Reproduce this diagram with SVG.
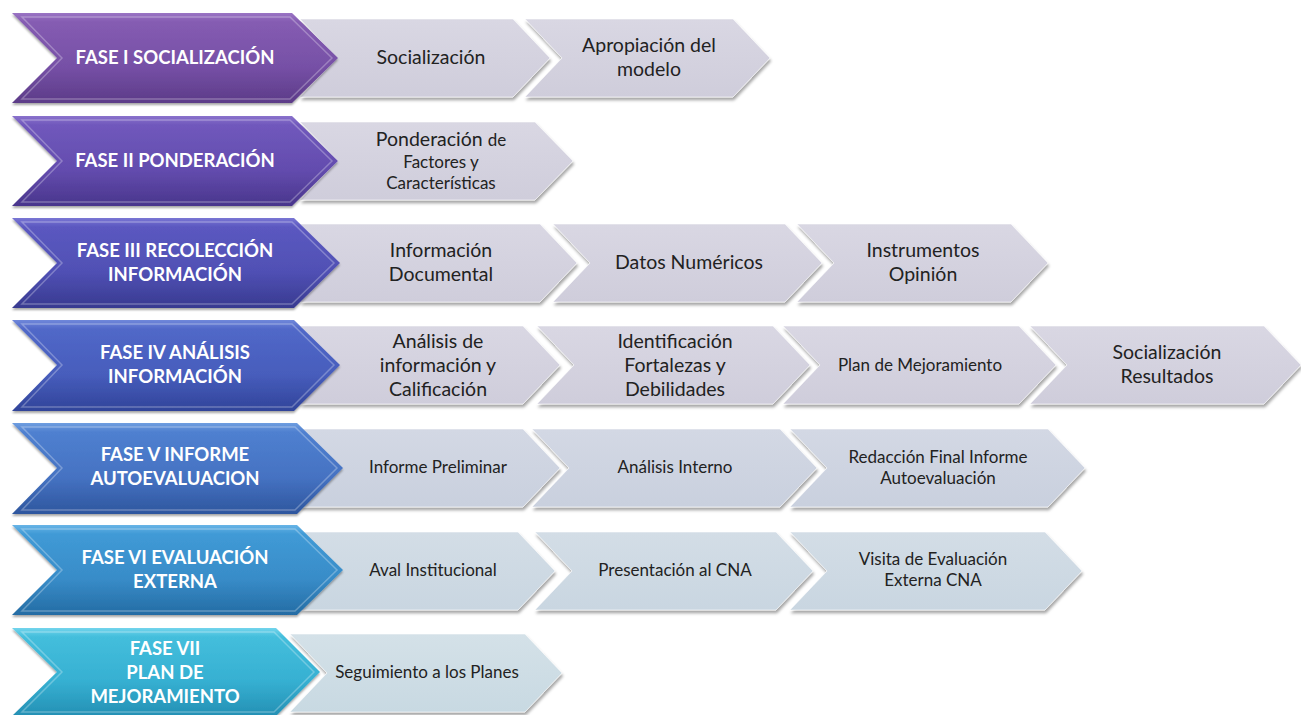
<svg xmlns="http://www.w3.org/2000/svg" width="1301" height="715" viewBox="0 0 1301 715">
<style>
.big text{font-family:Lato,"Liberation Sans",sans-serif;font-weight:bold;font-size:18.5px;fill:#fff;text-anchor:middle}
.sm text{font-family:Lato,"Liberation Sans",sans-serif;font-size:19.5px;fill:#222;text-anchor:middle}
.sm text.s{font-size:17px}
.sm polygon{filter:url(#sh);stroke:#fff;stroke-opacity:0.55;stroke-width:1}
.bigp{filter:url(#sh2)}
.hl{fill:none;stroke:#fff;stroke-opacity:0.28;stroke-width:1.5}
</style>
<defs>
<filter id="sh" x="-5%" y="-10%" width="115%" height="130%"><feDropShadow dx="1" dy="3" stdDeviation="1.6" flood-color="#000" flood-opacity="0.35"/></filter>
<filter id="sh2" x="-5%" y="-10%" width="115%" height="130%"><feDropShadow dx="0" dy="2" stdDeviation="1.2" flood-color="#000" flood-opacity="0.35"/></filter>
<linearGradient id="gs1" x1="0" y1="0" x2="0" y2="1"><stop offset="0" stop-color="#d9d7e3"/><stop offset="1" stop-color="#cfcddb"/></linearGradient>
<linearGradient id="gs5" x1="0" y1="0" x2="0" y2="1"><stop offset="0" stop-color="#d3d8e4"/><stop offset="1" stop-color="#c9d0de"/></linearGradient>
<linearGradient id="gs6" x1="0" y1="0" x2="0" y2="1"><stop offset="0" stop-color="#d3dde6"/><stop offset="1" stop-color="#c9d6e1"/></linearGradient>
<linearGradient id="gs7" x1="0" y1="0" x2="0" y2="1"><stop offset="0" stop-color="#d4e1e8"/><stop offset="1" stop-color="#c8d9e2"/></linearGradient>
<linearGradient id="g1" x1="0" y1="0" x2="0" y2="1"><stop offset="0" stop-color="#9a74c4"/><stop offset="0.1" stop-color="#855cb2"/><stop offset="0.6" stop-color="#7650a6"/><stop offset="1" stop-color="#5c3b88"/></linearGradient>
<linearGradient id="g2" x1="0" y1="0" x2="0" y2="1"><stop offset="0" stop-color="#8a72cc"/><stop offset="0.1" stop-color="#7058bc"/><stop offset="0.6" stop-color="#634cae"/><stop offset="1" stop-color="#49358c"/></linearGradient>
<linearGradient id="g3" x1="0" y1="0" x2="0" y2="1"><stop offset="0" stop-color="#7a76d4"/><stop offset="0.1" stop-color="#5b58c0"/><stop offset="0.6" stop-color="#5050b4"/><stop offset="1" stop-color="#383a90"/></linearGradient>
<linearGradient id="g4" x1="0" y1="0" x2="0" y2="1"><stop offset="0" stop-color="#7088da"/><stop offset="0.1" stop-color="#5168c8"/><stop offset="0.6" stop-color="#475dbc"/><stop offset="1" stop-color="#31449a"/></linearGradient>
<linearGradient id="g5" x1="0" y1="0" x2="0" y2="1"><stop offset="0" stop-color="#6f9ee0"/><stop offset="0.1" stop-color="#4f80d0"/><stop offset="0.6" stop-color="#4572c2"/><stop offset="1" stop-color="#2e569e"/></linearGradient>
<linearGradient id="g6" x1="0" y1="0" x2="0" y2="1"><stop offset="0" stop-color="#68b4e6"/><stop offset="0.1" stop-color="#409ad6"/><stop offset="0.6" stop-color="#388cc8"/><stop offset="1" stop-color="#246ca4"/></linearGradient>
<linearGradient id="g7" x1="0" y1="0" x2="0" y2="1"><stop offset="0" stop-color="#72d4ec"/><stop offset="0.1" stop-color="#44bedc"/><stop offset="0.6" stop-color="#36b0d2"/><stop offset="1" stop-color="#2490b4"/></linearGradient>
</defs>

<g id="connectors"></g>

<!-- Row 1 -->
<g id="r1" class="sm">
  <g id="r1s2"><polygon points="525,19 733,19 770,58 733,97 525,97 562,58" fill="url(#gs1)"/><text x="649" y="52">Apropiación del</text><text x="649" y="76">modelo</text></g>
  <g id="r1s1"><polygon points="300,19 513,19 550,58 513,97 300,97 337,58" fill="url(#gs1)"/><text x="431" y="64">Socialización</text></g>
</g>
<g id="fase1" class="big"><polygon class="bigp" points="12,13 292,13 338,58 292,103 12,103 57,58" fill="url(#g1)"/><polygon class="hl" points="22,17 290,17 332,58 290,99 22,99 62,58"/><text x="175" y="64">FASE I SOCIALIZACIÓN</text></g>

<!-- Row 2 -->
<g id="r2" class="sm">
  <g id="r2s1"><polygon points="300,122 535,122 573,161 535,200 300,200 338,161" fill="url(#gs1)"/><text x="441" y="146">Ponderación <tspan font-size="17">de</tspan></text><text class="s" x="441" y="168">Factores y</text><text class="s" x="441" y="189">Características</text></g>
</g>
<g id="fase2" class="big"><polygon class="bigp" points="12,116 292,116 338,161 292,206 12,206 57,161" fill="url(#g2)"/><polygon class="hl" points="22,120 290,120 332,161 290,202 22,202 62,161"/><text x="175" y="167">FASE II PONDERACIÓN</text></g>

<!-- Row 3 -->
<g id="r3" class="sm">
  <g id="r3s3"><polygon points="797,224 1011,224 1048,263 1011,302 797,302 834,263" fill="url(#gs1)"/><text x="923" y="257">Instrumentos</text><text x="923" y="281">Opinión</text></g>
  <g id="r3s2"><polygon points="553,224 785,224 822,263 785,302 553,302 590,263" fill="url(#gs1)"/><text x="689" y="269">Datos Numéricos</text></g>
  <g id="r3s1"><polygon points="300,224 540,224 577,263 540,302 300,302 337,263" fill="url(#gs1)"/><text x="441" y="257">Información</text><text x="441" y="281">Documental</text></g>
</g>
<g id="fase3" class="big"><polygon class="bigp" points="12,218 294,218 340,263 294,308 12,308 57,263" fill="url(#g3)"/><polygon class="hl" points="22,222 292,222 334,263 292,304 22,304 62,263"/><text x="175" y="257">FASE III RECOLECCIÓN</text><text x="175" y="281">INFORMACIÓN</text></g>

<!-- Row 4 -->
<g id="r4" class="sm">
  <g id="r4s4"><polygon points="1030,326 1264,326 1301,365 1264,404 1030,404 1067,365" fill="url(#gs1)"/><text x="1167" y="359">Socialización</text><text x="1167" y="383">Resultados</text></g>
  <g id="r4s3"><polygon points="783,326 1019,326 1056,365 1019,404 783,404 820,365" fill="url(#gs1)"/><text class="s" x="920" y="371">Plan de Mejoramiento</text></g>
  <g id="r4s2"><polygon points="537,326 773,326 810,365 773,404 537,404 574,365" fill="url(#gs1)"/><text x="675" y="348">Identificación</text><text x="675" y="372">Fortalezas y</text><text x="675" y="396">Debilidades</text></g>
  <g id="r4s1"><polygon points="300,326 523,326 560,365 523,404 300,404 337,365" fill="url(#gs1)"/><text x="438" y="348">Análisis de</text><text x="438" y="372">información y</text><text x="438" y="396">Calificación</text></g>
</g>
<g id="fase4" class="big"><polygon class="bigp" points="12,320 294,320 340,365 294,411 12,411 57,365" fill="url(#g4)"/><polygon class="hl" points="22,324 292,324 334,365 292,407 22,407 62,365"/><text x="175" y="359">FASE IV ANÁLISIS</text><text x="175" y="383">INFORMACIÓN</text></g>

<!-- Row 5 -->
<g id="r5" class="sm">
  <g id="r5s3"><polygon points="790,429 1048,429 1085,468 1048,507 790,507 827,468" fill="url(#gs5)"/><text class="s" x="938" y="463">Redacción Final Informe</text><text class="s" x="938" y="484">Autoevaluación</text></g>
  <g id="r5s2"><polygon points="532,429 780,429 817,468 780,507 532,507 569,468" fill="url(#gs5)"/><text class="s" x="675" y="473">Análisis Interno</text></g>
  <g id="r5s1"><polygon points="300,429 523,429 560,468 523,507 300,507 337,468" fill="url(#gs5)"/><text class="s" x="438" y="473">Informe Preliminar</text></g>
</g>
<g id="fase5" class="big"><polygon class="bigp" points="12,423 297,423 343,468 297,514 12,514 57,468" fill="url(#g5)"/><polygon class="hl" points="22,427 295,427 337,468 295,510 22,510 62,468"/><text x="175" y="461">FASE V INFORME</text><text x="175" y="485">AUTOEVALUACION</text></g>

<!-- Row 6 -->
<g id="r6" class="sm">
  <g id="r6s3"><polygon points="790,532 1045,532 1082,571 1045,610 790,610 827,571" fill="url(#gs6)"/><text class="s" x="933" y="565">Visita de Evaluación</text><text class="s" x="933" y="586">Externa CNA</text></g>
  <g id="r6s2"><polygon points="535,532 776,532 813,571 776,610 535,610 572,571" fill="url(#gs6)"/><text class="s" x="675" y="576">Presentación al CNA</text></g>
  <g id="r6s1"><polygon points="300,532 518,532 555,571 518,610 300,610 337,571" fill="url(#gs6)"/><text class="s" x="433" y="576">Aval Institucional</text></g>
</g>
<g id="fase6" class="big"><polygon class="bigp" points="12,525 297,525 343,570 297,615 12,615 57,570" fill="url(#g6)"/><polygon class="hl" points="22,529 295,529 337,570 295,611 22,611 62,570"/><text x="175" y="564">FASE VI EVALUACIÓN</text><text x="175" y="588">EXTERNA</text></g>

<!-- Row 7 -->
<g id="r7" class="sm">
  <g id="r7s1"><polygon points="290,634 525,634 562,673 525,712 290,712 327,673" fill="url(#gs7)"/><text class="s" x="427" y="678">Seguimiento a los Planes</text></g>
</g>
<g id="fase7" class="big"><polygon class="bigp" points="12,628 276,628 320,672 276,716 12,716 57,672" fill="url(#g7)"/><polygon class="hl" points="22,632 274,632 314,672 274,712 22,712 62,672"/><text x="165" y="655">FASE VII</text><text x="165" y="679">PLAN DE</text><text x="165" y="703">MEJORAMIENTO</text></g>
</svg>
